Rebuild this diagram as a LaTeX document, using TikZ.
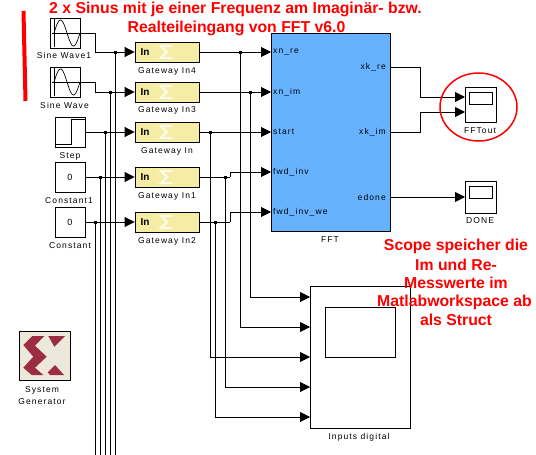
\documentclass[tikz,border=0pt]{standalone}
\usepackage{fontspec}
\setmainfont{Liberation Sans}
\newfontfamily\lblfont[LetterSpace=13]{Liberation Sans}
\usetikzlibrary{arrows.meta,shapes.geometric}
\definecolor{gatewayfill}{RGB}{245,236,165}
\definecolor{fftfill}{RGB}{102,178,255}
\definecolor{sysgenfill}{RGB}{236,233,220}
\definecolor{xilinxred}{RGB}{155,45,65}
\tikzset{
  wire/.style={line width=0.9pt, black},
  inwire/.style={wire, -{Triangle[length=10pt,width=10pt]}},
  junc/.style={rectangle, fill=black, minimum size=3pt, inner sep=0pt},
  block/.style={rectangle, draw=black, fill=white, line width=0.9pt, inner sep=0pt},
  srcblock/.style={block, minimum width=30pt, minimum height=30pt},
  gateway/.style={block, fill=gatewayfill, minimum width=64pt, minimum height=20pt},
  scopeblock/.style={block, minimum width=31pt},
  lbl/.style={font=\lblfont\fontsize{8.5}{10}\selectfont, inner sep=0pt},
  port/.style={font=\lblfont\fontsize{8.5}{10}\selectfont, inner sep=0pt},
  note/.style={font=\bfseries\fontsize{15.8}{18}\selectfont, text=red, inner sep=0pt},
  logo/.style={fill=xilinxred, draw=none},
}
\begin{document}
\begin{tikzpicture}[x=1pt,y=-1pt]
  \useasboundingbox (0,0) rectangle (536,455);
  % remarks behind the FFT block
  \node[note] (n1) at (235.5,9) {2 x Sinus mit je einer Frequenz am Imaginär- bzw.};
  \node[note] (n2) at (236.5,28) {Realteileingang von FFT v6.0};
  % sources
  \node[srcblock] (sw1) at (65.5,33) {};
  \node[srcblock] (sw2) at (65.5,82) {};
  \node[srcblock] (step) at (70,132) {};
  \node[srcblock] (const1) at (70,177) {\fontsize{9}{10}\selectfont 0};
  \node[srcblock] (const) at (70,222) {\fontsize{9}{10}\selectfont 0};
  \node[lbl] (lsw1) at (64,55.5) {Sine Wave1};
  \node[lbl] (lsw2) at (64.5,105.5) {Sine Wave};
  \node[lbl] (lstep) at (70,156) {Step};
  \node[lbl] (lconst1) at (69,201) {Constant1};
  \node[lbl] (lconst) at (70,246) {Constant};
  \foreach \y in {33,82} {
    \draw[line width=0.7pt] (54,\y-14) -- (54,\y+14);
    \draw[line width=0.7pt] (52,\y) -- (80,\y);
    \draw[line width=0.7pt, domain=0:26, samples=40, smooth, variable=\t]
      plot ({54+\t}, {\y-13*sin(\t*360/26)});
  }
  \draw[line width=0.7pt] (55,144) -- (71,144) -- (71,119) -- (85,119);
  % gateways
  \foreach \n/\y/\txt/\ly in {g4/52/Gateway In4/71, g3/92/Gateway In3/110,
      g0/132/Gateway In/151, g1/177/Gateway In1/196, g2/222/Gateway In2/241} {
    \node[gateway] (\n) at (167,\y) {};
    \draw[gatewayfill!25!white, line width=2.2pt]
      (172,\y-6) -- (161,\y-6) -- (167,\y) -- (161,\y+6) -- (172,\y+6);
    \node[font=\bfseries\fontsize{10}{12}\selectfont, inner sep=0pt] (in\n) at (145,\y) {In};
    \node[lbl] (l\n) at (167,\ly) {\txt};
  }
  % FFT block
  \node[block, fill=fftfill, minimum width=119pt, minimum height=198pt] (fft) at (330.5,132) {};
  \node[lbl] (lfft) at (330,240) {FFT};
  \foreach \n/\y/\txt in {pa/52/xn\_re, pb/92/xn\_im, pc/132/start, pd/172/fwd\_inv, pe/212/fwd\_inv\_we} {
    \coordinate (\n) at (271,\y);
    \node[port, anchor=west] (l\n) at (273,\y) {\txt};
  }
  \node[port, anchor=east] (lxkre) at (386,67) {xk\_re};
  \node[port, anchor=east] (lxkim) at (386,132) {xk\_im};
  \node[port, anchor=east] (ledone) at (386,197) {edone};
  \coordinate (xkre) at (390,67);
  \coordinate (xkim) at (390,132);
  \coordinate (edone) at (390,197);
  % scopes
  \node[scopeblock, minimum height=35pt] (fftout) at (480.5,104.5) {};
  \node[block, minimum width=23pt, minimum height=12pt] (fftscr) at (480.5,98) {};
  \node[lbl] (lfftout) at (480,131) {FFTout};
  \node[scopeblock, minimum height=32pt] (done) at (480.5,197) {};
  \node[block, minimum width=23pt, minimum height=12pt] (donescr) at (480.5,192) {};
  \node[lbl] (ldone) at (480,221) {DONE};
  \coordinate (fa) at (465,97);
  \coordinate (fb) at (465,112);
  \coordinate (dn) at (465,197);
  \coordinate (ka) at (420,97);
  \coordinate (kb) at (420,112);
  % inputs digital
  \node[block, minimum width=100pt, minimum height=142pt] (ind) at (360,357) {};
  \node[block, minimum width=70pt, minimum height=50pt] (indscr) at (360,332) {};
  \node[lbl] (lind) at (359,437) {Inputs digital};
  \foreach \n/\y in {ia/297,ib/327,ic/357,id/387,ie/417} {
    \coordinate (\n) at (310,\y);
  }
  % wires left
  \coordinate (b1) at (95,52);
  \coordinate (b2) at (95,92);
  \draw[wire] (sw1.east) -| (b1);
  \draw[wire] (sw2.east) -| (b2);
  \draw[inwire] (b1) -- (g4.west);
  \draw[inwire] (b2) -- (g3.west);
  \draw[inwire] (step.east) -- (g0.west);
  \draw[inwire] (const1.east) -- (g1.west);
  \draw[inwire] (const.east) -- (g2.west);
  \foreach \n/\x/\y in {s1/115/52, s2/110/92, s3/105/132, s4/100/177, s5/95/222} {
    \node[junc] (\n) at (\x,\y) {};
    \coordinate (e\n) at (\x,455);
    \draw[wire] (\n) -- (e\n);
  }
  % wires right
  \node[junc] (t4) at (240,52) {};
  \node[junc] (t3) at (250,92) {};
  \node[junc] (t0) at (210,132) {};
  \node[junc] (t1) at (225,177) {};
  \node[junc] (t2) at (215,222) {};
  \coordinate (k1) at (230,177);
  \coordinate (k2) at (230,222);
  \draw[inwire] (g4.east) -- (pa);
  \draw[inwire] (g3.east) -- (pb);
  \draw[inwire] (g0.east) -- (pc);
  \draw[wire] (g1.east) -- (k1);
  \draw[wire] (g2.east) -- (k2);
  \draw[inwire] (k1) |- (pd);
  \draw[inwire] (k2) |- (pe);
  \draw[inwire] (t3) |- (ia);
  \draw[inwire] (t4) |- (ib);
  \draw[inwire] (t0) |- (ic);
  \draw[inwire] (t1) |- (id);
  \draw[inwire] (t2) |- (ie);
  \draw[wire] (xkre) -| (ka);
  \draw[wire] (xkim) -| (kb);
  \draw[inwire] (ka) -- (fa);
  \draw[inwire] (kb) -- (fb);
  \draw[inwire] (edone) -- (dn);
  % system generator
  \node[block, fill=sysgenfill, minimum width=51pt, minimum height=49pt] (sysgen) at (44.5,355.5) {};
  \fill[logo] (32.3,336) -- (44.3,336) -- (35,345.7) -- (46.7,356.7) -- (35,367.7) -- (43.3,375)
    -- (31.7,375) -- (23.3,367.7) -- (33.3,356.7) -- (23.3,345) -- cycle;
  \fill[logo] (48.3,336) -- (65,336) -- (54.3,346.7) -- cycle;
  \fill[logo] (47.7,372.3) -- (55,365) -- (64,375) -- (50,375) -- cycle;
  \node[lbl] (lsys1) at (42,390) {System};
  \node[lbl] (lsys2) at (42,402) {Generator};
  % red remarks
  \draw[red, line width=4pt] (23.5,11) -- (25.5,101);
  \node[draw=red, line width=1.5pt, ellipse, minimum width=77pt, minimum height=68pt, inner sep=0pt] (ring) at (478.5,107) {};
  \node[note] (n3) at (456,246) {Scope speicher die};
  \node[note] (n4) at (456,264.5) {Im und Re-};
  \node[note] (n5) at (456,283) {Messwerte im};
  \node[note] (n6) at (454.5,302) {Matlabworkspace ab};
  \node[note] (n7) at (456,320) {als Struct};
\end{tikzpicture}
\end{document}
